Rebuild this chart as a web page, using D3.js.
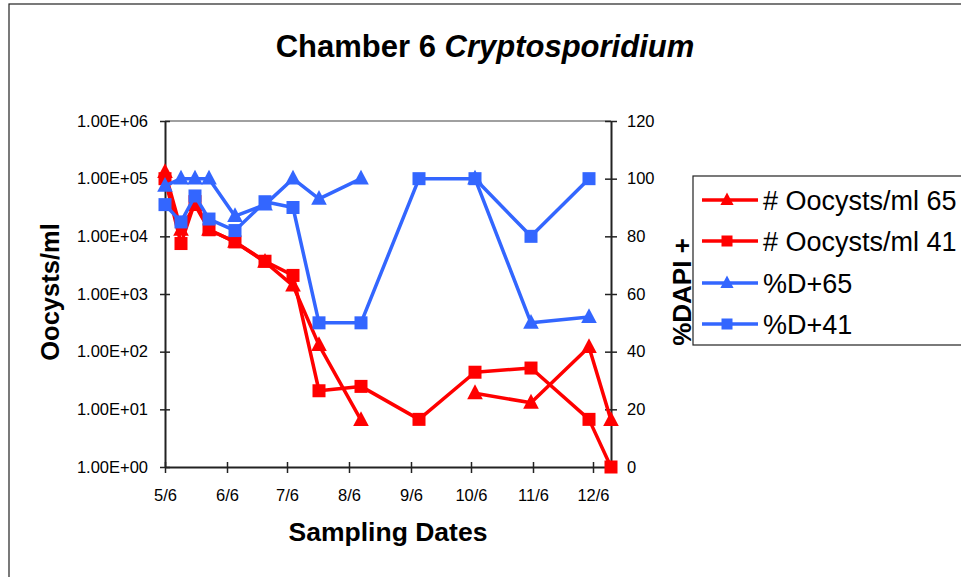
<!DOCTYPE html>
<html>
<head>
    <script src="https://d3js.org/d3.v7.min.js" charset="utf-8"></script>
    <style>
        body { margin: 0; background: #fff; }
        text { font-family: "Liberation Sans", Arial, sans-serif; fill: #000; }
    </style>
</head>
<body>
    <script>
        // sampling dates and the four series
        var dates = ["2001-05-06", "2001-05-14", "2001-05-21", "2001-05-28", "2001-06-10", "2001-06-25", "2001-07-09",
                     "2001-07-22", "2001-08-12", "2001-09-10", "2001-10-08", "2001-11-05", "2001-12-04", "2001-12-15"];
        var oocysts65 = [130000, 13000, 35000, 13000, 8000, 3600, 1400, 130, 6.5, null, 19, 13, 120, 6.5];
        var oocysts41 = [100000, 7500, 40000, 13000, 8000, 3700, 2100, 21, 25, 6.7, 44, 52, 6.7, 1];
        var dapi65 = [97.5, 100, 100, 100, 87, 91, 100, 93, 100, null, 100, 50, 52, null];
        var dapi41 = [91, 85, 94, 86, 82, 92, 90, 50, 50, 100, 100, 80, 100, null];
        var xTicks = ["2001-05-06", "2001-06-06", "2001-07-06", "2001-08-06", "2001-09-06", "2001-10-06", "2001-11-06", "2001-12-06"];
        var leftTicks = [1, 10, 100, 1000, 10000, 100000, 1000000];
        var rightTicks = [0, 20, 40, 60, 80, 100, 120];

        var red = "#ff0000", blue = "#3366ff";
        var seriesList = [
            { name: "# Oocysts/ml 65", values: oocysts65, axis: "left", color: red, shape: "tri" },
            { name: "# Oocysts/ml 41", values: oocysts41, axis: "left", color: red, shape: "sq" },
            { name: "%D+65", values: dapi65, axis: "right", color: blue, shape: "tri" },
            { name: "%D+41", values: dapi41, axis: "right", color: blue, shape: "sq" }
        ];

        var W = 961, H = 577;
        var m = { left: 165, right: 611, top: 121, bottom: 467 };
        var parse = d3.utcParse("%Y-%m-%d");

        var svg = d3.select("body").append("svg")
            .attr("width", W)
            .attr("height", H);

        // chart border (runs off the right and bottom)
        svg.append("rect")
            .attr("x", 9).attr("y", 4)
            .attr("width", 1000).attr("height", 700)
            .attr("fill", "none").attr("stroke", "#222").attr("stroke-width", 1.2);

        var x = d3.scaleUtc()
            .domain([parse(dates[0]), parse(dates[dates.length - 1])])
            .range([m.left, m.right]);
        var yL = d3.scaleLog().domain([1, 1e6]).range([m.bottom, m.top]);
        var yR = d3.scaleLinear().domain([0, 120]).range([m.bottom, m.top]);

        // top edge of plot area
        svg.append("line")
            .attr("x1", m.left).attr("x2", m.right)
            .attr("y1", m.top).attr("y2", m.top)
            .attr("stroke", "#808080").attr("stroke-width", 1.5);

        function expFmt(v) {
            var e = Math.round(Math.log10(v));
            return "1.00E+" + (e < 10 ? "0" + e : e);
        }

        var leftAxis = d3.axisLeft(yL).tickValues(leftTicks).tickFormat(expFmt).tickSizeInner(5).tickSizeOuter(0).tickPadding(12);
        var gl = svg.append("g").attr("transform", "translate(" + m.left + ",0)").call(leftAxis);
        var rightAxis = d3.axisRight(yR).tickValues(rightTicks).tickSizeInner(6).tickSizeOuter(0).tickPadding(10);
        var gr = svg.append("g").attr("transform", "translate(" + m.right + ",0)").call(rightAxis);
        var xAxis = d3.axisBottom(x).tickValues(xTicks.map(parse)).tickFormat(d3.utcFormat("%-m/%-d")).tickSizeInner(5).tickSizeOuter(0).tickPadding(17);
        var gx = svg.append("g").attr("transform", "translate(0," + m.bottom + ")").call(xAxis);

        [gl, gr, gx].forEach(function (g) {
            g.select(".domain").attr("stroke", "#222").attr("stroke-width", 2);
            g.selectAll(".tick line").attr("stroke", "#222").attr("stroke-width", 1.5);
            g.selectAll("text").attr("font-size", 16.5).attr("font-family", "Liberation Sans, Arial, sans-serif").attr("fill", "#000");
        });
        // ticks cross the axes
        gl.selectAll(".tick line").attr("x1", 5).attr("x2", -5);
        gr.selectAll(".tick line").attr("x1", -6).attr("x2", 6);
        gx.selectAll(".tick line").attr("y1", -5).attr("y2", 6);

        function trianglePath(cx, cy, s) {
            var h = s * 0.95;
            return "M" + cx + "," + (cy - h * 0.6) + "L" + (cx + s / 2) + "," + (cy + h * 0.4) + "L" + (cx - s / 2) + "," + (cy + h * 0.4) + "Z";
        }
        function drawMarker(g, shape, cx, cy, s, color) {
            if (shape === "sq") {
                g.append("rect").attr("x", cx - s / 2).attr("y", cy - s / 2).attr("width", s).attr("height", s).attr("fill", color);
            } else {
                g.append("path").attr("d", trianglePath(cx, cy, s * 1.2)).attr("fill", color);
            }
        }

        seriesList.forEach(function (s) {
            var yScale = s.axis === "left" ? yL : yR;
            var pts = dates.map(function (d, i) { return { date: parse(d), v: s.values[i] }; });
            var line = d3.line()
                .defined(function (d) { return d.v != null; })
                .x(function (d) { return x(d.date); })
                .y(function (d) { return yScale(d.v); });
            var g = svg.append("g");
            g.append("path").datum(pts)
                .attr("d", line)
                .attr("fill", "none")
                .attr("stroke", s.color)
                .attr("stroke-width", 3.5)
                .attr("stroke-linejoin", "round");
            pts.filter(function (d) { return d.v != null; }).forEach(function (d) {
                drawMarker(g, s.shape, x(d.date), yScale(d.v), 13, s.color);
            });
        });

        // titles
        svg.append("text").attr("x", 485).attr("y", 57).attr("text-anchor", "middle")
            .attr("font-size", 31).attr("font-weight", "bold")
            .text("Chamber 6 ")
            .append("tspan").attr("font-style", "italic").text("Cryptosporidium");
        svg.append("text").attr("x", 388).attr("y", 541).attr("text-anchor", "middle")
            .attr("font-size", 26.5).attr("font-weight", "bold").text("Sampling Dates");
        svg.append("text").attr("transform", "translate(59,292) rotate(-90)").attr("text-anchor", "middle")
            .attr("font-size", 25.5).attr("font-weight", "bold").text("Oocysts/ml");
        svg.append("text").attr("transform", "translate(691,292) rotate(-90)").attr("text-anchor", "middle")
            .attr("font-size", 26).attr("font-weight", "bold").text("%DAPI +");

        // legend
        var lg = svg.append("g");
        lg.append("rect").attr("x", 693).attr("y", 176).attr("width", 300).attr("height", 169)
            .attr("fill", "#fff").attr("stroke", "#222").attr("stroke-width", 1.2);
        var rowY = [200, 241, 283, 324];
        seriesList.forEach(function (s, i) {
            var yy = rowY[i];
            lg.append("line").attr("x1", 702).attr("x2", 758).attr("y1", yy).attr("y2", yy)
                .attr("stroke", s.color).attr("stroke-width", 3.5);
            drawMarker(lg, s.shape, 727, yy, 11, s.color);
            lg.append("text").attr("x", 763).attr("y", yy + 10).attr("font-size", 27).text(s.name);
        });
    </script>
</body>
</html>
